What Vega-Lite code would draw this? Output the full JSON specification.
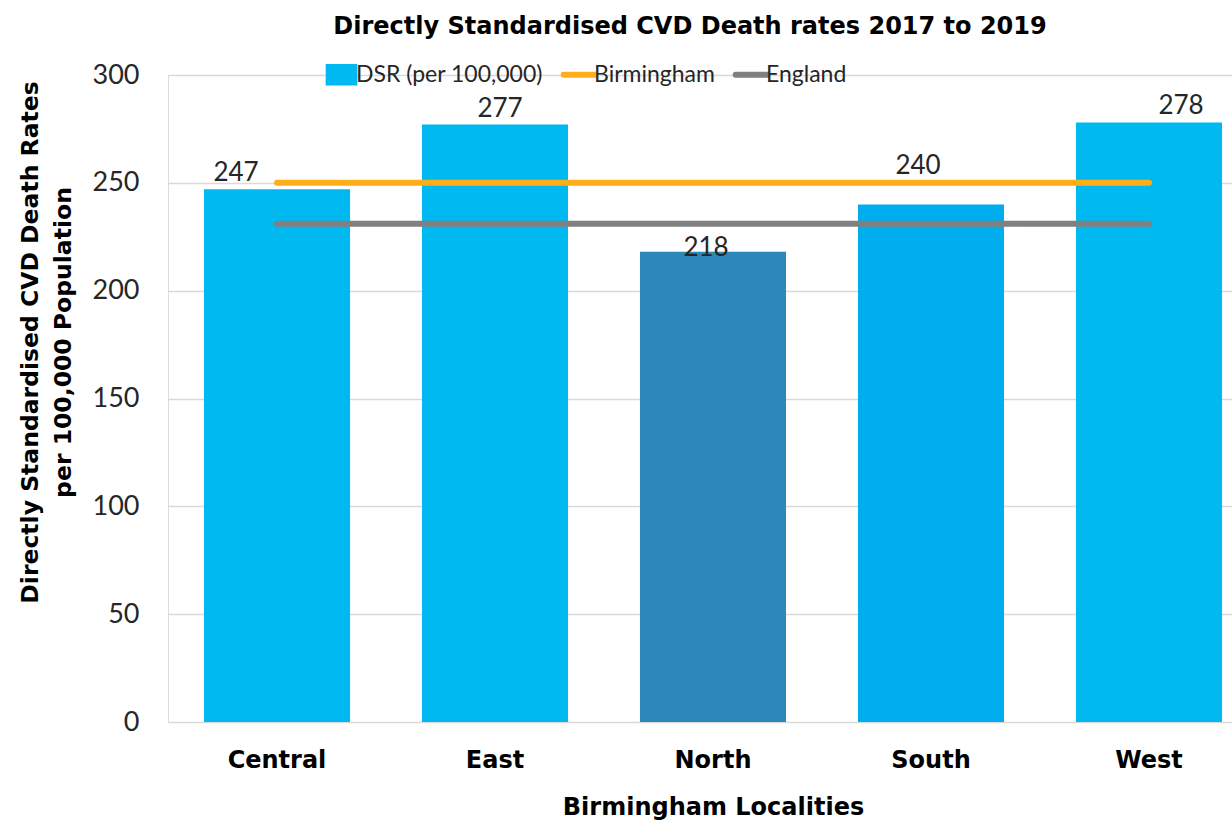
{
  "$schema": "https://vega.github.io/schema/vega-lite/v6.json",
  "width": 1090,
  "height": 647,
  "autosize": {"type": "none"},
  "padding": {"left": 168, "top": 75, "right": -26, "bottom": 104},
  "background": "white",
  "title": {
    "text": "Directly Standardised CVD Death rates 2017 to 2019",
    "font": "DejaVu Sans",
    "fontSize": 24,
    "fontWeight": "bold",
    "color": "#000000",
    "anchor": "middle",
    "frame": "group",
    "dx": -23,
    "offset": 22
  },
  "datasets": {
    "bars": [
      {"Locality": "Central", "value": 247, "series": "DSR (per 100,000)"},
      {"Locality": "East", "value": 277, "series": "DSR (per 100,000)"},
      {"Locality": "North", "value": 218, "series": "DSR (per 100,000)"},
      {"Locality": "South", "value": 240, "series": "DSR (per 100,000)"},
      {"Locality": "West", "value": 278, "series": "DSR (per 100,000)"}
    ],
    "lines": [
      {"Locality": "Central", "value": 250, "series": "Birmingham"},
      {"Locality": "East", "value": 250, "series": "Birmingham"},
      {"Locality": "North", "value": 250, "series": "Birmingham"},
      {"Locality": "South", "value": 250, "series": "Birmingham"},
      {"Locality": "West", "value": 250, "series": "Birmingham"},
      {"Locality": "Central", "value": 231, "series": "England"},
      {"Locality": "East", "value": 231, "series": "England"},
      {"Locality": "North", "value": 231, "series": "England"},
      {"Locality": "South", "value": 231, "series": "England"},
      {"Locality": "West", "value": 231, "series": "England"}
    ]
  },
  "encoding": {
    "x": {
      "field": "Locality",
      "type": "nominal",
      "sort": null,
      "scale": {"paddingInner": 0.33, "paddingOuter": 0.165},
      "axis": {
        "title": "Birmingham Localities",
        "labelAngle": 0,
        "labelFont": "DejaVu Sans",
        "labelFontSize": 24,
        "labelFontWeight": "bold",
        "labelColor": "#000000",
        "labelPadding": 26,
        "domain": false,
        "ticks": false,
        "titleFont": "DejaVu Sans",
        "titleFontSize": 24,
        "titleFontWeight": "bold",
        "titleColor": "#000000",
        "titlePadding": 23
      }
    },
    "y": {
      "field": "value",
      "type": "quantitative",
      "scale": {"domain": [0, 300], "nice": false},
      "axis": {
        "values": [0, 50, 100, 150, 200, 250, 300],
        "title": ["Directly Standardised CVD Death Rates", "per 100,000 Population"],
        "titleFont": "DejaVu Sans",
        "titleFontSize": 23.5,
        "titleFontWeight": "bold",
        "titleColor": "#000000",
        "titleAngle": -90,
        "titleAlign": "center",
        "titleBaseline": "middle",
        "titleLineHeight": 33,
        "titleX": -138,
        "titleY": 267,
        "labelFont": "Lato",
        "labelFontSize": 27,
        "labelColor": "#262626",
        "labelPadding": 29,
        "domain": false,
        "ticks": false,
        "grid": true,
        "gridColor": "#d9d9d9",
        "gridWidth": 1.5,
        "encode": {"labels": {"update": {"letterSpacing": {"value": 3}}}}
      }
    }
  },
  "layer": [
    {
      "data": {"name": "bars"},
      "mark": {"type": "bar"},
      "encoding": {
        "color": {
          "field": "series",
          "type": "nominal",
          "condition": [
            {"test": "datum.Locality === 'North'", "value": "#2e87b9"},
            {"test": "datum.Locality === 'South'", "value": "#00aeef"}
          ],
          "scale": {
            "domain": ["DSR (per 100,000)", "Birmingham", "England"],
            "range": ["#00b9f1", "#fdae19", "#808080"]
          },
          "legend": {
            "title": null,
            "orient": "none",
            "legendX": 162,
            "legendY": -12,
            "direction": "horizontal",
            "columns": 3,
            "columnPadding": 8,
            "labelFont": "Lato",
            "labelFontSize": 23,
            "labelColor": "#262626",
            "labelOffset": 3,
            "labelLimit": 400,
            "symbolSize": 1000,
            "encode": {
              "symbols": {
                "update": {
                  "shape": {"signal": "datum.value === 'DSR (per 100,000)' ? 'M-1,-0.68H1V0.68H-1Z' : 'stroke'"},
                  "fill": {"scale": "color", "field": "value"},
                  "stroke": {"scale": "color", "field": "value"},
                  "strokeWidth": {"signal": "datum.value === 'DSR (per 100,000)' ? 0 : 6"},
                  "strokeCap": {"value": "round"},
                  "opacity": {"value": 1}
                }
              },
              "labels": {
                "update": {"letterSpacing": {"value": 0}}
              }
            }
          }
        }
      }
    },
    {
      "data": {"name": "lines"},
      "mark": {"type": "line", "strokeWidth": 6, "strokeCap": "round"},
      "encoding": {
        "color": {"field": "series", "type": "nominal"},
        "detail": {"field": "series"}
      }
    },
    {
      "data": {"name": "bars"},
      "mark": {
        "type": "text",
        "font": "Lato",
        "fontSize": 26,
        "color": "#262626",
        "baseline": "alphabetic",
        "letterSpacing": 4,
        "dx": {"expr": "datum.Locality === 'Central' ? -41 : (datum.Locality === 'West' ? 32 : (datum.Locality === 'South' ? -13 : (datum.Locality === 'North' ? -7 : 5)))"},
        "dy": {"expr": "datum.Locality === 'South' ? -30 : (datum.Locality === 'North' ? 4 : -8)"}
      },
      "encoding": {
        "text": {"field": "value", "type": "quantitative"}
      }
    }
  ]
}
